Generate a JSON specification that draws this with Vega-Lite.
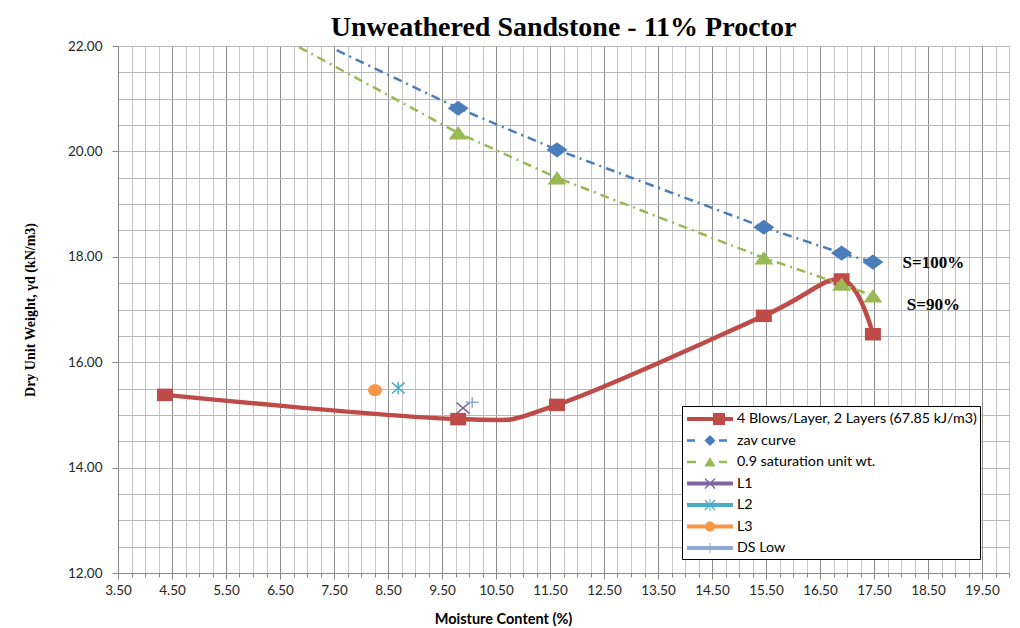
{
  "$schema": "https://vega.github.io/schema/vega-lite/v6.json",
  "width": 891,
  "height": 527,
  "autosize": {"type": "none"},
  "padding": {"left": 118, "top": 46, "right": 11, "bottom": 55},
  "background": "white",
  "title": {
    "text": "Unweathered Sandstone - 11% Proctor",
    "font": "Liberation Serif",
    "fontSize": 28,
    "fontWeight": "bold",
    "color": "#000000",
    "anchor": "middle",
    "offset": -3
  },
  "datasets": {
    "pts": [
      {"series": "4 Blows/Layer, 2 Layers (67.85 kJ/m3)", "w": 4.37, "gd": 15.38, "kind": "m"},
      {"series": "4 Blows/Layer, 2 Layers (67.85 kJ/m3)", "w": 9.8, "gd": 14.92, "kind": "m"},
      {"series": "4 Blows/Layer, 2 Layers (67.85 kJ/m3)", "w": 11.63, "gd": 15.19, "kind": "m"},
      {"series": "4 Blows/Layer, 2 Layers (67.85 kJ/m3)", "w": 15.46, "gd": 16.88, "kind": "m"},
      {"series": "4 Blows/Layer, 2 Layers (67.85 kJ/m3)", "w": 16.9, "gd": 17.57, "kind": "m"},
      {"series": "4 Blows/Layer, 2 Layers (67.85 kJ/m3)", "w": 17.48, "gd": 16.53, "kind": "m"},
      {"series": "zav curve", "w": 7.55, "gd": 21.92, "kind": "ext"},
      {"series": "zav curve", "w": 9.8, "gd": 20.82, "kind": "m"},
      {"series": "zav curve", "w": 11.63, "gd": 20.03, "kind": "m"},
      {"series": "zav curve", "w": 15.46, "gd": 18.56, "kind": "m"},
      {"series": "zav curve", "w": 16.9, "gd": 18.07, "kind": "m"},
      {"series": "zav curve", "w": 17.48, "gd": 17.9, "kind": "m"},
      {"series": "0.9 saturation unit wt.", "w": 6.85, "gd": 21.98, "kind": "ext"},
      {"series": "0.9 saturation unit wt.", "w": 9.8, "gd": 20.35, "kind": "m"},
      {"series": "0.9 saturation unit wt.", "w": 11.63, "gd": 19.5, "kind": "m"},
      {"series": "0.9 saturation unit wt.", "w": 15.46, "gd": 17.98, "kind": "m"},
      {"series": "0.9 saturation unit wt.", "w": 16.9, "gd": 17.48, "kind": "m"},
      {"series": "0.9 saturation unit wt.", "w": 17.48, "gd": 17.26, "kind": "m"},
      {"series": "L1", "w": 9.89, "gd": 15.13, "kind": "m"},
      {"series": "L2", "w": 8.69, "gd": 15.51, "kind": "m"},
      {"series": "L3", "w": 8.26, "gd": 15.47, "kind": "m"},
      {"series": "DS Low", "w": 10.06, "gd": 15.24, "kind": "m"}
    ],
    "notes": [
      {"label": "S=100%", "w": 18.6, "gd": 17.88},
      {"label": "S=90%", "w": 18.6, "gd": 17.09}
    ]
  },
  "data": {"name": "pts"},
  "layer": [
    {
      "transform": [{"filter": "datum.series === '4 Blows/Layer, 2 Layers (67.85 kJ/m3)'"}],
      "mark": {"type": "line", "interpolate": "cardinal", "color": "#BE4B48", "strokeWidth": 4.5, "clip": true},
      "encoding": {
        "x": {
          "field": "w", "type": "quantitative",
          "scale": {"domain": [3.5, 20], "nice": false, "zero": false},
          "axis": {
            "title": "Moisture Content  (%)",
            "titleFont": "Lato", "titleFontSize": 14.5, "titleFontWeight": "bold", "titleColor": "#000000",
            "titleX": 385, "titleAlign": "center", "titlePadding": 16,
            "tickCount": 200,
            "values": [3.5,3.75,4,4.25,4.5,4.75,5,5.25,5.5,5.75,6,6.25,6.5,6.75,7,7.25,7.5,7.75,8,8.25,8.5,8.75,9,9.25,9.5,9.75,10,10.25,10.5,10.75,11,11.25,11.5,11.75,12,12.25,12.5,12.75,13,13.25,13.5,13.75,14,14.25,14.5,14.75,15,15.25,15.5,15.75,16,16.25,16.5,16.75,17,17.25,17.5,17.75,18,18.25,18.5,18.75,19,19.25,19.5,19.75,20],
            "labelExpr": "abs(((datum.value - 3.5) % 1)) < 0.001 ? format(datum.value, '.2f') : ''",
            "labelFont": "Lato", "labelFontSize": 13.5, "labelColor": "#262626",
            "labelOverlap": false, "labelFlush": false, "labelPadding": 4,
            "grid": true,
            "gridColor": {"condition": {"test": "abs(((datum.value - 3.5) % 1)) < 0.001", "value": "#8c8c8c"}, "value": "#c6c6c6"},
            "gridWidth": 1,
            "ticks": true,
            "tickColor": "#868686",
            "tickSize": {"condition": {"test": "abs(((datum.value - 3.5) % 1)) < 0.001", "value": 6}, "value": 4},
            "domainColor": "#868686"
          }
        },
        "y": {
          "field": "gd", "type": "quantitative",
          "scale": {"domain": [12, 22], "nice": false, "zero": false},
          "axis": {
            "title": "Dry Unit Weight, γd (kN/m3)",
            "titleFont": "Liberation Serif", "titleFontSize": 14, "titleFontWeight": "bold", "titleColor": "#000000",
            "titlePadding": 30,
            "tickCount": 200,
            "values": [12,12.5,13,13.5,14,14.5,15,15.5,16,16.5,17,17.5,18,18.5,19,19.5,20,20.5,21,21.5,22],
            "labelExpr": "datum.value % 2 === 0 ? format(datum.value, '.2f') : ''",
            "labelFont": "Lato", "labelFontSize": 13.5, "labelColor": "#262626",
            "labelOverlap": false, "labelFlush": false, "labelPadding": 10,
            "grid": true,
            "gridColor": "#b8b8b8",
            "gridWidth": 1,
            "tickColor": "#868686",
            "tickSize": {"condition": {"test": "datum.value % 2 === 0", "value": 6}, "value": 0},
            "domainColor": "#868686"
          }
        }
      }
    },
    {
      "transform": [{"filter": "datum.series === '4 Blows/Layer, 2 Layers (67.85 kJ/m3)'"}],
      "mark": {"type": "point", "filled": true, "opacity": 1, "shape": "M-1,-0.78H1V0.78H-1Z", "size": 256, "color": "#BE4B48"},
      "encoding": {"x": {"field": "w", "type": "quantitative"}, "y": {"field": "gd", "type": "quantitative"}}
    },
    {
      "transform": [{"filter": "datum.series === 'zav curve'"}],
      "mark": {"type": "line", "color": "#4A7EBB", "strokeWidth": 2.5, "strokeDash": [9, 5, 2, 5], "clip": true},
      "encoding": {"x": {"field": "w", "type": "quantitative"}, "y": {"field": "gd", "type": "quantitative"}}
    },
    {
      "transform": [{"filter": "datum.series === 'zav curve' && datum.kind === 'm'"}],
      "mark": {"type": "point", "filled": true, "opacity": 1, "shape": "M-1,0L0,-0.72L1,0L0,0.72Z", "size": 441, "color": "#4A7EBB"},
      "encoding": {"x": {"field": "w", "type": "quantitative"}, "y": {"field": "gd", "type": "quantitative"}}
    },
    {
      "transform": [{"filter": "datum.series === '0.9 saturation unit wt.'"}],
      "mark": {"type": "line", "color": "#98B954", "strokeWidth": 2.5, "strokeDash": [9, 5, 2, 5], "clip": true},
      "encoding": {"x": {"field": "w", "type": "quantitative"}, "y": {"field": "gd", "type": "quantitative"}}
    },
    {
      "transform": [{"filter": "datum.series === '0.9 saturation unit wt.' && datum.kind === 'm'"}],
      "mark": {"type": "point", "filled": true, "opacity": 1, "shape": "M0,-0.7L1,0.7H-1Z", "size": 361, "color": "#98B954"},
      "encoding": {"x": {"field": "w", "type": "quantitative"}, "y": {"field": "gd", "type": "quantitative"}}
    },
    {
      "transform": [{"filter": "datum.series === 'L1'"}],
      "mark": {"type": "point", "filled": false, "opacity": 1, "shape": "M-1,-0.85L1,0.85M-1,0.85L1,-0.85", "size": 160, "color": "#8064A2", "strokeWidth": 1.5},
      "encoding": {"x": {"field": "w", "type": "quantitative"}, "y": {"field": "gd", "type": "quantitative"}}
    },
    {
      "transform": [{"filter": "datum.series === 'L2'"}],
      "mark": {"type": "point", "filled": false, "opacity": 1, "shape": "M-1,-0.85L1,0.85M-1,0.85L1,-0.85M0,-1L0,1", "size": 160, "color": "#4BACC6", "strokeWidth": 1.5},
      "encoding": {"x": {"field": "w", "type": "quantitative"}, "y": {"field": "gd", "type": "quantitative"}}
    },
    {
      "transform": [{"filter": "datum.series === 'L3'"}],
      "mark": {"type": "point", "filled": true, "opacity": 1, "shape": "M-1,0A1,0.85 0 1,1 1,0A1,0.85 0 1,1 -1,0Z", "size": 196, "color": "#F79646"},
      "encoding": {"x": {"field": "w", "type": "quantitative"}, "y": {"field": "gd", "type": "quantitative"}}
    },
    {
      "transform": [{"filter": "datum.series === 'DS Low'"}],
      "mark": {"type": "point", "filled": false, "opacity": 1, "shape": "M-1,0L1,0M0,-0.85L0,0.85", "size": 160, "color": "#8EA9D6", "strokeWidth": 1.5},
      "encoding": {"x": {"field": "w", "type": "quantitative"}, "y": {"field": "gd", "type": "quantitative"}}
    },
    {
      "data": {"name": "notes"},
      "mark": {"type": "text", "font": "Liberation Serif", "fontSize": 17, "fontWeight": "bold", "color": "#000000", "align": "center", "baseline": "middle"},
      "encoding": {
        "x": {"field": "w", "type": "quantitative"},
        "y": {"field": "gd", "type": "quantitative"},
        "text": {"field": "label"}
      }
    },
    {
      "transform": [{"filter": "false"}],
      "mark": {"type": "point", "filled": true, "opacity": 1},
      "encoding": {
        "x": {"field": "w", "type": "quantitative"},
        "y": {"field": "gd", "type": "quantitative"},
        "color": {
          "field": "series", "type": "nominal",
          "scale": {
            "domain": ["4 Blows/Layer, 2 Layers (67.85 kJ/m3)", "zav curve", "0.9 saturation unit wt.", "L1", "L2", "L3", "DS Low"],
            "range": ["#BE4B48", "#4A7EBB", "#98B954", "#8064A2", "#4BACC6", "#F79646", "#8EA9D6"]
          },
          "legend": {
            "orient": "none", "legendX": 564, "legendY": 360,
            "title": null,
            "padding": 3,
            "strokeColor": "#000000",
            "fillColor": "#ffffff",
            "symbolSize": 400,
            "symbolOffset": 15,
            "symbolStrokeWidth": 0,
            "symbolOpacity": 1,
            "labelFont": "Lato", "labelFontSize": 14.3, "labelColor": "#000000",
            "labelOffset": 17,
            "labelLimit": 400,
            "rowPadding": 3.5
          }
        },
        "shape": {
          "field": "series", "type": "nominal",
          "scale": {
            "domain": ["4 Blows/Layer, 2 Layers (67.85 kJ/m3)", "zav curve", "0.9 saturation unit wt.", "L1", "L2", "L3", "DS Low"],
            "range": [
              "M-2.3,-0.2H2.3V0.2H-2.3Z M0.3,-0.6H1.5V0.6H0.3Z",
              "M-2.3,-0.12H-1.5V0.12H-2.3Z M0.9,-0.12H1.7V0.12H0.9Z M0,-0.55L0.55,0L0,0.55L-0.55,0Z",
              "M-2.3,-0.12H-1.4V0.12H-2.3Z M0.9,-0.12H1.7V0.12H0.9Z M0,-0.5L0.55,0.45H-0.55Z",
              "M-2.3,-0.2H2.3V0.2H-2.3Z M-0.46,-0.55L0.55,0.46L0.46,0.55L-0.55,-0.46Z M0.46,-0.55L0.55,-0.46L-0.46,0.55L-0.55,0.46Z",
              "M-2.3,-0.2H2.3V0.2H-2.3Z M-0.46,-0.55L0.55,0.46L0.46,0.55L-0.55,-0.46Z M0.46,-0.55L0.55,-0.46L-0.46,0.55L-0.55,0.46Z M-0.05,-0.6H0.05V0.6H-0.05Z",
              "M-2.3,-0.2H2.3V0.2H-2.3Z M-0.5,0A0.5,0.5 0 1,1 0.5,0A0.5,0.5 0 1,1 -0.5,0Z",
              "M-2.3,-0.2H2.3V0.2H-2.3Z M-0.05,-0.5H0.05V0.5H-0.05Z"
            ]
          }
        }
      }
    }
  ],
  "config": {
    "view": {"stroke": null},
    "axis": {"domainWidth": 1}
  }
}
